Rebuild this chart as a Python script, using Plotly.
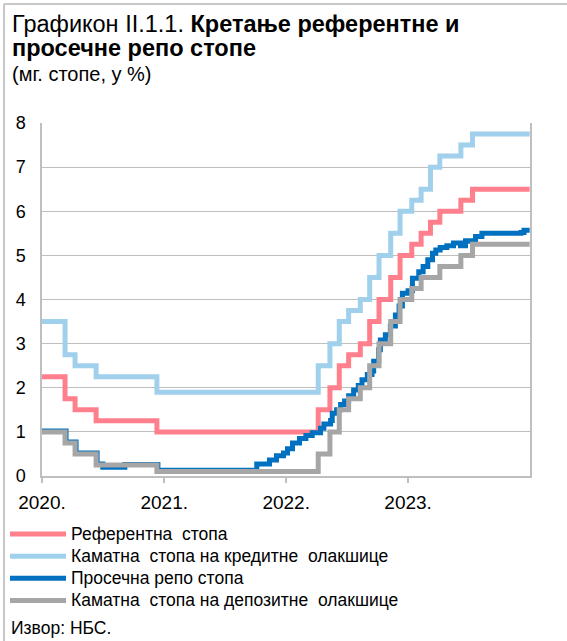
import plotly.graph_objects as go

# ---------------- data ----------------
step_dates = ["2020-01-01", "2020-03-10", "2020-04-09", "2020-06-11", "2020-12-10",
              "2022-04-07", "2022-05-12", "2022-06-09", "2022-07-07", "2022-08-11",
              "2022-09-08", "2022-10-06", "2022-11-10", "2022-12-08", "2023-01-12",
              "2023-02-09", "2023-03-09", "2023-04-06", "2023-06-08", "2023-07-13",
              "2023-12-31"]
ref_rate = [2.25, 1.75, 1.50, 1.25, 1.00,
            1.50, 2.00, 2.50, 2.75, 3.00,
            3.50, 4.00, 4.50, 5.00, 5.25,
            5.50, 5.75, 6.00, 6.25, 6.50,
            6.50]
credit_rate = [3.50, 2.75, 2.50, 2.25, 1.90,
               2.50, 3.00, 3.50, 3.75, 4.00,
               4.50, 5.00, 5.50, 6.00, 6.25,
               6.50, 7.00, 7.25, 7.50, 7.75,
               7.75]
deposit_rate = [1.00, 0.75, 0.50, 0.25, 0.10,
                0.50, 1.00, 1.50, 1.75, 2.00,
                2.50, 3.00, 3.50, 4.00, 4.25,
                4.50, 4.50, 4.75, 5.00, 5.25,
                5.25]

repo_dates = ["2020-01-01", "2020-03-13", "2020-04-12", "2020-06-14", "2020-07-01",
              "2020-09-05", "2020-12-13", "2021-10-05", "2021-11-12", "2021-12-03",
              "2021-12-24", "2022-01-05", "2022-01-20", "2022-02-10", "2022-03-01",
              "2022-03-20", "2022-04-14", "2022-04-24", "2022-05-14", "2022-05-19",
              "2022-06-01", "2022-06-13", "2022-06-25", "2022-07-07", "2022-07-22",
              "2022-08-05", "2022-08-16", "2022-09-01", "2022-09-15", "2022-09-20",
              "2022-10-05", "2022-10-10", "2022-10-25", "2022-11-09", "2022-11-24",
              "2022-12-05", "2022-12-15", "2023-01-01", "2023-01-14", "2023-02-02",
              "2023-02-15", "2023-03-01", "2023-03-15", "2023-03-25", "2023-04-07",
              "2023-04-27", "2023-05-17", "2023-06-07", "2023-06-22", "2023-07-07",
              "2023-07-22", "2023-08-10", "2023-12-05", "2023-12-14", "2023-12-31"]
repo_rate = [1.02, 0.77, 0.52, 0.27, 0.20,
             0.26, 0.13, 0.27, 0.36, 0.46,
             0.52, 0.62, 0.75, 0.85, 0.92,
             0.98, 1.08, 1.18, 1.26, 1.42,
             1.50, 1.62, 1.70, 1.82, 1.95,
             2.05, 2.18, 2.30, 2.38, 2.60,
             2.86, 3.08, 3.20, 3.40, 3.65,
             3.85, 4.14, 4.20, 4.48, 4.63,
             4.75, 4.90, 5.05, 5.12, 5.18,
             5.22, 5.28, 5.22, 5.33, 5.32,
             5.43, 5.50, 5.52, 5.57, 5.57]

names = ["Референтна  стопа", "Каматна  стопа на кредитне  олакшице",
         "Просечна репо стопа", "Каматна  стопа на депозитне  олакшице"]
colors = ["#FF808C", "#A0D0EC", "#0070C0", "#A6A6A6"]

year_ticks = ["2020-01-01", "2021-01-01", "2022-01-01", "2023-01-01"]
year_labels = ["2020.", "2021.", "2022.", "2023."]

# ---------------- geometry ----------------
W, H = 567, 641
L, R, T, B = 42, 37, 123, 165
PW, PH = W - L - R, H - T - B


def fx(p):
    return (p - L) / PW


def fy(p):
    return (H - B - p) / PH


FONT = "Liberation Sans, Arial, sans-serif"
GRID = "#BFBFBF"

fig = go.Figure()
series = [(step_dates, ref_rate), (step_dates, credit_rate),
          (repo_dates, repo_rate), (step_dates, deposit_rate)]
for (xs, ys), nm, c in zip(series, names, colors):
    fig.add_trace(go.Scatter(x=xs, y=ys, mode="lines",
                             name='<span style="font-size:17.5px">' + nm + '</span>',
                             line=dict(color=c, width=5, shape="hv")))

fig.update_layout(
    width=W, height=H,
    margin=dict(l=L, r=R, t=T, b=B, autoexpand=False),
    paper_bgcolor="white", plot_bgcolor="white",
    font=dict(family=FONT, size=16, color="#000000"),
    showlegend=True,
    legend=dict(x=fx(5), y=fy(518), xanchor="left", yanchor="top",
                bgcolor="rgba(0,0,0,0)", font=dict(size=14.7),
                itemwidth=56, tracegroupgap=0),
    xaxis=dict(type="date", range=["2020-01-01", "2024-01-01"],
               tickvals=year_ticks, ticktext=year_labels,
               ticks="outside", ticklen=5, tickcolor=GRID, tickwidth=1.5,
               showgrid=False, showline=True, linecolor=GRID, linewidth=1.5,
               tickfont=dict(size=19), zeroline=False, ticklabelstandoff=3,
               automargin=False),
    yaxis=dict(range=[0, 8], dtick=1, showgrid=True, gridcolor=GRID, gridwidth=1.3,
               showline=True, linecolor=GRID, linewidth=1.5, mirror=True,
               ticks="", tickfont=dict(size=18), zeroline=False,
               ticklabelstandoff=11, automargin=False),
)

fig.add_annotation(
    text="Графикон II.1.1. <b>Кретање референтне и</b>",
    xref="paper", yref="paper", x=fx(10), y=fy(24), xanchor="left", yanchor="middle",
    align="left", showarrow=False, font=dict(size=23.5, family=FONT))
fig.add_annotation(
    text="<b>просечне репо стопе</b>",
    xref="paper", yref="paper", x=fx(10), y=fy(48), xanchor="left", yanchor="middle",
    align="left", showarrow=False, font=dict(size=23.5, family=FONT))
fig.add_annotation(
    text="(мг. стопе, у %)", xref="paper", yref="paper", x=fx(10), y=fy(74),
    xanchor="left", yanchor="middle", align="left", showarrow=False,
    font=dict(size=20, family=FONT))
fig.add_annotation(
    text="Извор: НБС.", xref="paper", yref="paper", x=fx(10), y=fy(628),
    xanchor="left", yanchor="middle", align="left", showarrow=False,
    borderpad=0, font=dict(size=17.5, family=FONT))

# outer frame (top and left edges visible)
fig.add_shape(type="line", xref="paper", yref="paper", x0=fx(4), x1=fx(W + 5),
              y0=fy(4), y1=fy(4), line=dict(color="#C8C8C8", width=2))
fig.add_shape(type="line", xref="paper", yref="paper", x0=fx(4), x1=fx(4),
              y0=fy(4), y1=fy(H + 5), line=dict(color="#C8C8C8", width=2))

fig.write_html("out.html", config={"displayModeBar": False},
               post_script="document.body.style.margin='0';document.body.style.overflow='hidden';")
